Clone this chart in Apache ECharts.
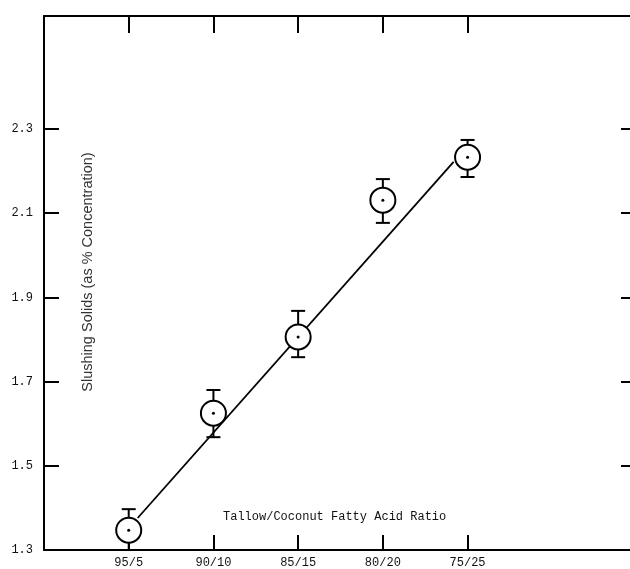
<!DOCTYPE html>
<html>
<head>
<meta charset="utf-8">
<script src="https://cdn.jsdelivr.net/npm/echarts@6/dist/echarts.min.js"></script>
<style>html,body{margin:0;padding:0;background:#fff;}#c{width:630px;height:569px;}</style>
</head>
<body>
<div id="c"></div>
<script>
// ---- data ----
var categories = ['95/5', '90/10', '85/15', '80/20', '75/25'];
var categoryX = [1, 2, 3, 4, 5];
var meanValues = [1.347, 1.625, 1.806, 2.131, 2.233];
var upperValues = [1.397, 1.680, 1.868, 2.181, 2.274];
var lowerValues = [1.300, 1.568, 1.758, 2.077, 2.186];
var fitLineX = [1.106, 4.835];
var fitLineY = [1.376, 2.222];
var yTickValues = [1.3, 1.5, 1.7, 1.9, 2.1, 2.3];
var yTickLabels = ['1.3', '1.5', '1.7', '1.9', '2.1', '2.3'];
var xTitle = 'Tallow/Coconut Fatty Acid Ratio';
var yTitle = 'Slushing Solids (as % Concentration)';

var chart = echarts.init(document.getElementById('c'), null, {renderer: 'canvas'});

var mono = "'Liberation Mono', 'DejaVu Sans Mono', monospace";
var points = categoryX.map(function (x, i) { return [x, meanValues[i]]; });
var bars = categoryX.map(function (x, i) { return [x, lowerValues[i], upperValues[i]]; });
var fit = fitLineX.map(function (x, i) { return [x, fitLineY[i]]; });

var option = {
  animation: false,
  backgroundColor: '#fff',
  grid: {left: 44, top: 16, width: 593, height: 534, containLabel: false, outerBoundsMode: 'none'},
  xAxis: [{
    type: 'value', min: 0, max: 7, position: 'bottom',
    axisLine: {show: true, onZero: false, lineStyle: {color: '#000', width: 2}},
    axisTick: {show: true, inside: true, length: 15, customValues: categoryX, lineStyle: {color: '#000', width: 2}},
    axisLabel: {show: true, customValues: categoryX, margin: 7, color: '#111', fontFamily: mono, fontSize: 12,
      formatter: function (v) { return categories[Math.round(v) - 1] || ''; }},
    splitLine: {show: false}
  }, {
    type: 'value', min: 0, max: 7, position: 'top',
    axisLine: {show: true, onZero: false, lineStyle: {color: '#000', width: 2}},
    axisTick: {show: true, inside: true, length: 17, customValues: categoryX, lineStyle: {color: '#000', width: 2}},
    axisLabel: {show: false},
    splitLine: {show: false}
  }],
  yAxis: [{
    type: 'value', min: 1.3, max: 1.3 + 534 / 421, position: 'left',
    axisLine: {show: true, onZero: false, lineStyle: {color: '#000', width: 2}},
    axisTick: {show: true, inside: true, length: 15, customValues: yTickValues.slice(1), lineStyle: {color: '#000', width: 2}},
    axisLabel: {show: true, customValues: yTickValues, margin: 11, color: '#111', fontFamily: mono, fontSize: 12,
      formatter: function (v) {
        for (var i = 0; i < yTickValues.length; i++) { if (Math.abs(yTickValues[i] - v) < 1e-6) return yTickLabels[i]; }
        return '';
      }},
    splitLine: {show: false}
  }, {
    type: 'value', min: 1.3, max: 1.3 + 534 / 421, position: 'right',
    axisLine: {show: true, onZero: false, lineStyle: {color: '#000', width: 2}},
    axisTick: {show: true, inside: true, length: 16, customValues: yTickValues.slice(1), lineStyle: {color: '#000', width: 2}},
    axisLabel: {show: false},
    splitLine: {show: false}
  }],
  graphic: [{
    type: 'text', left: 223, top: 511,
    style: {text: xTitle, fill: '#111', font: "12px 'Liberation Mono', monospace"}
  }, {
    type: 'text', x: 88, y: 272, rotation: Math.PI / 2,
    style: {text: yTitle, fill: '#333', font: "14.5px 'Liberation Sans', Arial, sans-serif", align: 'center', verticalAlign: 'middle'}
  }],
  series: [{
    type: 'custom', z: 1, xAxisIndex: 0, yAxisIndex: 0,
    data: bars,
    renderItem: function (params, api) {
      var x = api.value(0);
      var lo = api.coord([x, api.value(1)]);
      var hi = api.coord([x, api.value(2)]);
      var cap = 7;
      var st = {stroke: '#000', lineWidth: 2};
      return {type: 'group', children: [
        {type: 'line', shape: {x1: lo[0], y1: lo[1], x2: hi[0], y2: hi[1]}, style: st},
        {type: 'line', shape: {x1: hi[0] - cap, y1: hi[1], x2: hi[0] + cap, y2: hi[1]}, style: st},
        {type: 'line', shape: {x1: lo[0] - cap, y1: lo[1], x2: lo[0] + cap, y2: lo[1]}, style: st}
      ]};
    }
  }, {
    type: 'line', z: 2, xAxisIndex: 0, yAxisIndex: 0,
    data: fit, showSymbol: false, symbol: 'none',
    lineStyle: {color: '#000', width: 1.8}
  }, {
    type: 'scatter', z: 3, xAxisIndex: 0, yAxisIndex: 0,
    data: points, symbol: 'circle', symbolSize: 25,
    itemStyle: {color: '#fff', borderColor: '#000', borderWidth: 2, opacity: 1}
  }, {
    type: 'scatter', z: 4, xAxisIndex: 0, yAxisIndex: 0,
    data: points, symbol: 'circle', symbolSize: 3,
    itemStyle: {color: '#000', opacity: 1}
  }]
};
chart.setOption(option);
</script>
</body>
</html>
